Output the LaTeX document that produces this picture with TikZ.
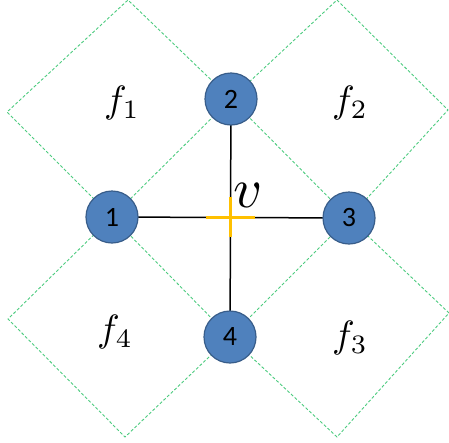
\documentclass[tikz,border=0pt]{standalone}
\usepackage{fontspec}
\newfontfamily\digitfont{Carlito}
\definecolor{nodeblue}{HTML}{4F81BD}
\definecolor{nodeedge}{HTML}{385D8A}
\definecolor{facegreen}{HTML}{4CCB7F}
\definecolor{crossyellow}{HTML}{FFC000}
\begin{document}
\begin{tikzpicture}[x=1pt,y=-1pt,
  vert/.style={circle,fill=nodeblue,draw=nodeedge,line width=1.2pt,minimum size=52pt,inner sep=0pt,font=\digitfont\fontsize{28}{30}\selectfont},
  face/.style={draw=facegreen,densely dashed,line width=0.9pt},
  edgeline/.style={draw=black,line width=1.5pt},
  crossline/.style={draw=crossyellow,line width=3pt},
  flabel/.style={scale=3.8,inner sep=0pt}]
\useasboundingbox (0,0) rectangle (449,442);
% vertex positions
\coordinate (p1) at (112,217);
\coordinate (p2) at (231,99);
\coordinate (p3) at (349,218);
\coordinate (p4) at (230,337);
% outer corners of the faces
\coordinate (a1) at (7,112);
\coordinate (a2) at (128,0);
\coordinate (b1) at (337,0);
\coordinate (b2) at (448,110);
\coordinate (d1) at (8,319);
\coordinate (d2) at (125,437);
\coordinate (e1) at (449,313);
\coordinate (e2) at (337,437);
% faces
\draw[face] (p1) -- (a1) -- (a2) -- (p2) -- cycle;
\draw[face] (p2) -- (b1) -- (b2) -- (p3) -- cycle;
\draw[face] (p1) -- (d1) -- (d2) -- (p4) -- cycle;
\draw[face] (p3) -- (e1) -- (e2) -- (p4) -- cycle;
% edges
\draw[edgeline] (p1) -- (p3);
\draw[edgeline] (p2) -- (p4);
% cross
\coordinate (cl) at (206,217);
\coordinate (cr) at (255,217);
\coordinate (ct) at (230,197);
\coordinate (cb) at (230,237);
\draw[crossline] (cl) -- (cr);
\draw[crossline] (ct) -- (cb);
% nodes
\node[vert] (n1) at (p1) {1};
\node[vert] (n2) at (p2) {2};
\node[vert] (n3) at (p3) {3};
\node[vert] (n4) at (p4) {4};
\node[scale=5.6,inner sep=0pt] (v) at (248,195) {$v$};
\node[flabel] (f1) at (122,103) {$f_1$};
\node[flabel] (f2) at (350,103) {$f_2$};
\node[flabel] (f3) at (350,338) {$f_3$};
\node[flabel] (f4) at (115,332) {$f_4$};
\end{tikzpicture}
\end{document}
